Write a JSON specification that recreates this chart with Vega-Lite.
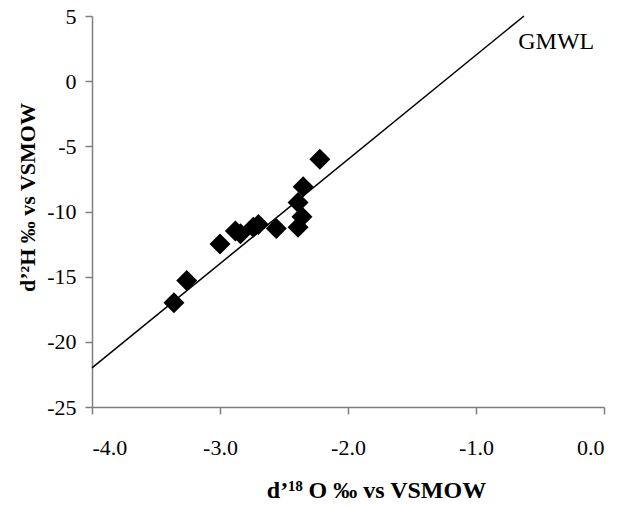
{
  "$schema": "https://vega.github.io/schema/vega-lite/v6.json",
  "width": 512,
  "height": 391,
  "autosize": {"type": "none"},
  "padding": {"left": 92, "top": 16, "right": 29, "bottom": 99},
  "background": "white",
  "config": {
    "view": {"stroke": null},
    "font": "Liberation Serif",
    "axis": {
      "grid": false,
      "domainColor": "#7f7f7f",
      "tickColor": "#7f7f7f",
      "domainWidth": 1.5,
      "tickWidth": 1.5,
      "tickSize": 7,
      "labelFont": "Liberation Serif",
      "labelFontSize": 22,
      "labelColor": "black",
      "titleFont": "Liberation Serif",
      "titleFontWeight": "bold",
      "titleColor": "black"
    }
  },
  "datasets": {
    "samples": [
      {"d18O": -3.36, "d2H": -17.0},
      {"d18O": -3.26, "d2H": -15.3},
      {"d18O": -3.00, "d2H": -12.5},
      {"d18O": -2.88, "d2H": -11.5},
      {"d18O": -2.84, "d2H": -11.7},
      {"d18O": -2.74, "d2H": -11.2},
      {"d18O": -2.70, "d2H": -11.0},
      {"d18O": -2.56, "d2H": -11.3},
      {"d18O": -2.39, "d2H": -11.2},
      {"d18O": -2.36, "d2H": -10.4},
      {"d18O": -2.39, "d2H": -9.3},
      {"d18O": -2.35, "d2H": -8.1},
      {"d18O": -2.22, "d2H": -6.0}
    ],
    "gmwl": [
      {"d18O": -4.0, "d2H": -22.0},
      {"d18O": -0.625, "d2H": 5.0}
    ],
    "label": [
      {"d18O": -0.67, "d2H": 3.0, "text": "GMWL"}
    ]
  },
  "layer": [
    {
      "data": {"name": "gmwl"},
      "mark": {"type": "line", "color": "black", "strokeWidth": 1.5, "clip": false},
      "encoding": {
        "x": {
          "field": "d18O", "type": "quantitative",
          "scale": {"domain": [-4, 0], "nice": false, "zero": false},
          "axis": {
            "values": [-4, -3, -2, -1, 0],
            "labelExpr": "replace(format(datum.value, '.1f'), '−', '-')",
            "labelPadding": 23,
            "title": "d’¹⁸ O ‰ vs VSMOW",
            "titleFontSize": 24,
            "titleX": 284,
            "titleY": 83,
            "titleBaseline": "middle",
            "titleAnchor": null
          }
        },
        "y": {
          "field": "d2H", "type": "quantitative",
          "scale": {"domain": [-25, 5], "nice": false, "zero": false},
          "axis": {
            "values": [-25, -20, -15, -10, -5, 0, 5],
            "labelExpr": "replace(format(datum.value, 'd'), '−', '-')",
            "labelPadding": 9,
            "title": "d’²H ‰ vs VSMOW",
            "titleFontSize": 22,
            "titleX": -65,
            "titleY": 181,
            "titleBaseline": "middle",
            "titleAngle": -90,
            "titleAnchor": null
          }
        }
      }
    },
    {
      "data": {"name": "samples"},
      "mark": {"type": "point", "shape": "diamond", "filled": true, "color": "black", "opacity": 1, "size": 441},
      "encoding": {
        "x": {"field": "d18O", "type": "quantitative"},
        "y": {"field": "d2H", "type": "quantitative"}
      }
    },
    {
      "data": {"name": "label"},
      "mark": {"type": "text", "align": "left", "baseline": "middle", "fontSize": 24, "color": "black", "font": "Liberation Serif"},
      "encoding": {
        "x": {"field": "d18O", "type": "quantitative"},
        "y": {"field": "d2H", "type": "quantitative"},
        "text": {"field": "text"}
      }
    }
  ]
}
